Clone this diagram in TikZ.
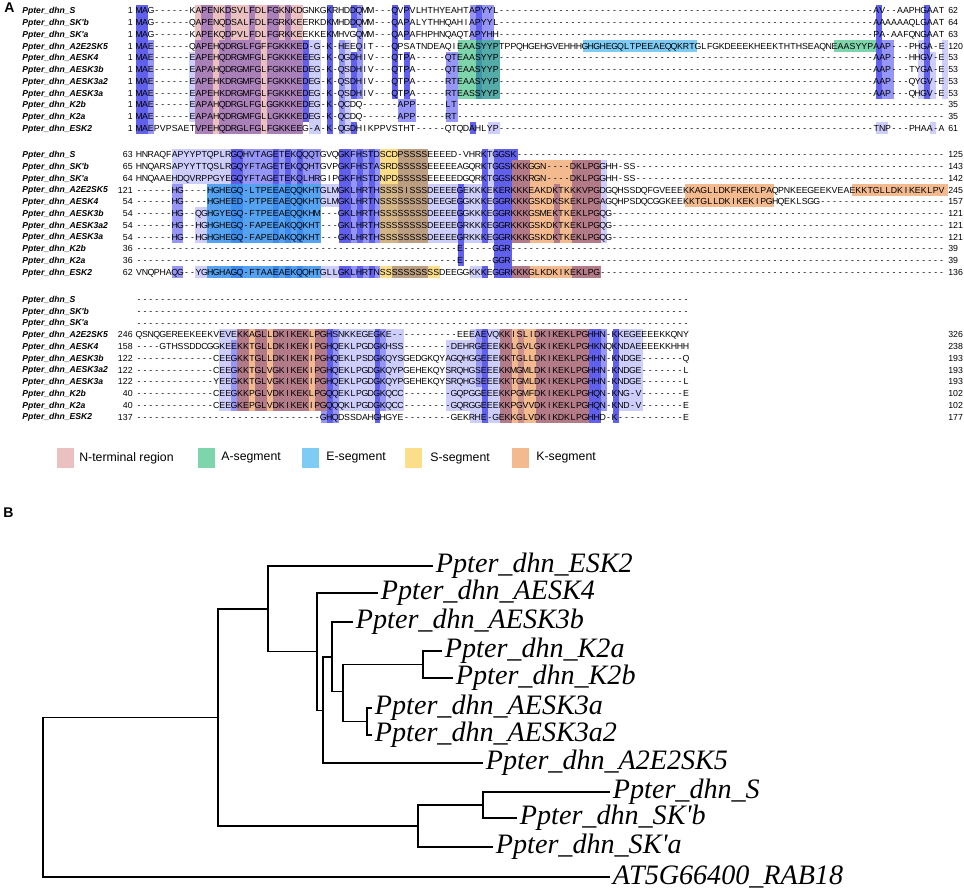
\documentclass[tikz,border=0pt]{standalone}
\usepackage{fontspec}
\newfontfamily\alnfont{Liberation Sans}
\newfontfamily\treefont{Liberation Serif}

\definecolor{consA}{RGB}{96,96,236}
\definecolor{consB}{RGB}{150,150,248}
\definecolor{consC}{RGB}{206,206,252}
\definecolor{segN}{RGB}{220,150,150}
\definecolor{segA}{RGB}{40,185,115}
\definecolor{segE}{RGB}{40,170,235}
\definecolor{segS}{RGB}{250,200,60}
\definecolor{segK}{RGB}{235,140,70}

\def\blkA{10.7}
\def\blkB{154.6}
\def\blkC{299.3}
\def\rowh{11.75}
\def\alnhl[#1](#2)(#3:#4)(#5:#6){\fill[#1] ({135.7+(#3-1)*5.97},{#2+(#5-1.5)*\rowh}) rectangle ({135.7+#4*5.97},{#2+(#6-0.5)*\rowh});}
\def\gaps#1{\ifnum#1>0 -\expandafter\gaps\expandafter{\the\numexpr#1-1\relax}\fi}
\newcommand\alnrow[1]{\edef\alnrowtmp{#1}\expandafter\xalnrow\alnrowtmp\relax}
\def\xalnrow#1{\ifx#1\relax\else\hbox to 3.384pt{\hss#1\hss}\expandafter\xalnrow\fi}

\tikzset{
  seg/.style={fill=#1,fill opacity=.6},
  seqrow/.style={anchor=base west,inner sep=0pt,font=\alnfont\fontsize{5}{6}\selectfont},
  seqname/.style={anchor=base west,inner sep=0pt,font=\alnfont\bfseries\itshape\fontsize{4.9}{6}\selectfont},
  seqnum/.style={inner sep=0pt,font=\alnfont\fontsize{5}{6}\selectfont},
  lgtext/.style={anchor=west,inner sep=0pt,font=\alnfont\fontsize{7}{8}\selectfont},
  panel/.style={anchor=north west,inner sep=0pt,font=\alnfont\bfseries\fontsize{8}{9}\selectfont},
  leaf/.style={anchor=west,inner sep=1.5pt,font=\treefont\itshape\fontsize{16}{18}\selectfont},
  branch/.style={line width=1pt}
}

\begin{document}
\begin{tikzpicture}[x=0.02cm,y=-0.02cm]
		%%%%% START %%%%%
		\useasboundingbox (0,0) rectangle (964,889);
		
		\node[panel] (pA) at (4,2) {A};
		\node[panel] (pB) at (3,507) {B};
		
		% block 1
		\alnhl[consA](\blkA)(1:2)(1:11)
		\alnhl[consB](\blkA)(3:3)(4:11)
		\alnhl[consC](\blkA)(10:10)(5:10)
		\alnhl[consA](\blkA)(12:13)(1:11)
		\alnhl[consA](\blkA)(16:16)(1:11)
		\alnhl[consA](\blkA)(20:20)(1:11)
		\alnhl[consA](\blkA)(23:24)(1:11)
		\alnhl[consA](\blkA)(26:26)(1:11)
		\alnhl[consA](\blkA)(11:11)(4:11)
		\alnhl[consA](\blkA)(15:15)(4:11)
		\alnhl[consA](\blkA)(17:19)(4:11)
		\alnhl[consA](\blkA)(21:21)(4:11)
		\alnhl[consA](\blkA)(25:25)(4:11)
		\alnhl[consA](\blkA)(27:28)(4:11)
		\alnhl[consA](\blkA)(29:29)(4:10)
		\alnhl[consC](\blkA)(30:31)(4:11)
		\alnhl[consA](\blkA)(33:33)(1:11)
		\alnhl[consB](\blkA)(35:35)(4:11)
		\alnhl[consC](\blkA)(36:36)(4:11)
		\alnhl[consA](\blkA)(37:37)(1:2)
		\alnhl[consA](\blkA)(37:37)(5:8)
		\alnhl[consA](\blkA)(37:37)(11:11)
		\alnhl[consB](\blkA)(38:38)(1:8)
		\alnhl[consA](\blkA)(44:44)(1:8)
		\alnhl[consA](\blkA)(46:46)(1:3)
		\alnhl[consA](\blkA)(46:46)(5:8)
		\alnhl[consB](\blkA)(45:47)(9:10)
		\alnhl[consB](\blkA)(53:54)(5:10)
		\alnhl[consB](\blkA)(57:57)(1:3)
		\alnhl[consA](\blkA)(58:58)(1:8)
		\alnhl[consB](\blkA)(59:60)(1:8)
		\alnhl[consB](\blkA)(61:61)(4:8)
		\alnhl[consA](\blkA)(57:57)(11:11)
		\alnhl[consC](\blkA)(60:61)(11:11)
		\alnhl[consA](\blkA)(125:125)(1:8)
		\alnhl[consB](\blkA)(126:127)(4:8)
		\alnhl[consC](\blkA)(125:126)(11:11)
		\alnhl[consC](\blkA)(132:132)(4:8)
		\alnhl[consA](\blkA)(133:133)(1:8)
		\alnhl[consC](\blkA)(134:134)(5:8)
		\alnhl[consC](\blkA)(134:134)(11:11)
		\alnhl[consC](\blkA)(136:136)(4:8)
		\alnhl[seg=segN](\blkA)(11:28)(1:11)
		\alnhl[seg=segA](\blkA)(55:61)(4:8)
		\alnhl[seg=segE](\blkA)(76:94)(4:4)
		\alnhl[seg=segA](\blkA)(118:124)(4:4)
		
		% block 2
		\alnhl[consC](\blkB)(7:16)(1:3)
		\alnhl[consB](\blkB)(7:8)(4:8)
		\alnhl[consB](\blkB)(7:8)(11:11)
		\alnhl[consC](\blkB)(11:12)(6:8)
		\alnhl[consC](\blkB)(11:12)(11:11)
		\alnhl[consB](\blkB)(13:31)(4:8)
		\alnhl[consB](\blkB)(13:31)(11:11)
		\alnhl[consB](\blkB)(19:31)(1:3)
		\foreach \c in {17,18,24,26,28,35,36,38,40} {\alnhl[consA](\blkB)(\c:\c)(1:8)\alnhl[consA](\blkB)(\c:\c)(11:11)}
		\foreach \c in {37,39,41} {\alnhl[consB](\blkB)(\c:\c)(1:8)\alnhl[consB](\blkB)(\c:\c)(11:11)}
		\alnhl[consC](\blkB)(32:34)(4:5)
		\alnhl[consC](\blkB)(32:34)(11:11)
		\alnhl[consB](\blkB)(42:44)(4:8)
		\alnhl[consA](\blkB)(45:49)(1:8)
		\alnhl[consA](\blkB)(44:49)(11:11)
		\alnhl[consC](\blkB)(50:54)(4:8)
		\alnhl[consA](\blkB)(55:55)(4:10)
		\alnhl[consC](\blkB)(56:58)(4:8)
		\alnhl[consC](\blkB)(57:58)(11:11)
		\alnhl[consA](\blkB)(59:59)(1:8)
		\alnhl[consA](\blkB)(59:59)(11:11)
		\alnhl[consC](\blkB)(60:60)(1:8)
		\alnhl[consA](\blkB)(61:63)(1:11)
		\alnhl[consA](\blkB)(64:64)(1:1)
		\alnhl[consA](\blkB)(64:66)(2:8)
		\alnhl[consA](\blkB)(64:66)(11:11)
		\alnhl[consA](\blkB)(71:71)(4:8)
		\alnhl[consA](\blkB)(74:78)(2:8)
		\alnhl[consA](\blkB)(74:78)(11:11)
		\alnhl[consC](\blkB)(79:79)(2:8)
		\alnhl[seg=segE](\blkB)(13:31)(4:8)
		\alnhl[seg=segE](\blkB)(13:31)(11:11)
		\alnhl[seg=segS](\blkB)(42:49)(1:8)
		\alnhl[seg=segS](\blkB)(42:51)(11:11)
		\alnhl[seg=segK](\blkB)(64:78)(2:8)
		\alnhl[seg=segK](\blkB)(64:78)(11:11)
		\alnhl[seg=segK](\blkB)(93:107)(4:5)
		\alnhl[seg=segK](\blkB)(121:136)(4:4)
		
		% block 3
		\alnhl[consC](\blkC)(15:17)(4:10)
		\alnhl[consB](\blkC)(17:17)(5:10)
		\alnhl[consA](\blkC)(18:19)(4:10)
		\alnhl[consA](\blkC)(21:22)(4:10)
		\alnhl[consA](\blkC)(24:29)(4:10)
		\alnhl[consA](\blkC)(31:32)(4:10)
		\alnhl[consB](\blkC)(32:32)(11:11)
		\alnhl[consA](\blkC)(33:33)(4:11)
		\alnhl[consB](\blkC)(34:34)(4:11)
		\alnhl[consC](\blkC)(35:45)(4:10)
		\alnhl[consA](\blkC)(41:41)(4:11)
		\alnhl[consB](\blkC)(42:42)(4:10)
		\alnhl[consC](\blkC)(53:56)(5:10)
		\alnhl[consC](\blkC)(57:61)(4:11)
		\alnhl[consB](\blkC)(58:58)(4:8)
		\alnhl[consA](\blkC)(59:59)(4:11)
		\alnhl[consA](\blkC)(62:63)(4:11)
		\alnhl[consB](\blkC)(65:65)(4:11)
		\alnhl[consA](\blkC)(68:78)(4:11)
		\alnhl[consB](\blkC)(79:79)(4:10)
		\alnhl[consA](\blkC)(81:81)(4:11)
		\alnhl[consC](\blkC)(82:85)(4:10)
		\alnhl[seg=segK](\blkC)(18:32)(4:10)
		\alnhl[seg=segK](\blkC)(62:76)(4:11)
		
		% names and numbers
		\foreach \blk/\bl in {\blkA/A,\blkB/B,\blkC/C}
		  \foreach \nm [count=\i] in {S,SK'b,SK'a,A2E2SK5,AESK4,AESK3b,AESK3a2,AESK3a,K2b,K2a,ESK2}
		    \node[seqname] (nm\bl\i) at (22,{\blk+(\i-1)*\rowh+3.1}) {Ppter\_dhn\_\nm};
		
		\foreach \l/\r [count=\i] in {1/62,1/64,1/63,1/120,1/53,1/53,1/53,1/53,1/35,1/35,1/61} {
		  \node[seqnum,anchor=base east] (lnA\i) at (133,{\blkA+(\i-1)*\rowh+3.2}) {\l};
		  \node[seqnum,anchor=base west] (rnA\i) at (948,{\blkA+(\i-1)*\rowh+3.2}) {\r};
		}
		\foreach \l/\r [count=\i] in {63/125,65/143,64/142,121/245,54/157,54/121,54/121,54/121,36/39,36/39,62/136} {
		  \node[seqnum,anchor=base east] (lnB\i) at (133,{\blkB+(\i-1)*\rowh+3.2}) {\l};
		  \node[seqnum,anchor=base west] (rnB\i) at (948,{\blkB+(\i-1)*\rowh+3.2}) {\r};
		}
		\foreach \l/\r/\i in {246/326/4,158/238/5,122/193/6,122/193/7,122/193/8,40/102/9,40/102/10,137/177/11} {
		  \node[seqnum,anchor=base east] (lnC\i) at (133,{\blkC+(\i-1)*\rowh+3.2}) {\l};
		  \node[seqnum,anchor=base west] (rnC\i) at (948,{\blkC+(\i-1)*\rowh+3.2}) {\r};
		}
		
		% sequences
		\foreach \s [count=\i] in {
		  MAG\gaps{6}KAPENKDSVLFDLFGKNKDGNKGKRHDDQMM\gaps{3}QVPVLHTHYEAHTAPYYL\gaps{63}AV--AAPHGAAT,
		  MAG\gaps{6}QAPENQDSALFDLFGRKKEERKDKMHDDQMM\gaps{3}QAPALYTHHQAHIAPYYL\gaps{63}AAAAAAQLGAAT,
		  MAG\gaps{6}KAPEKQDPVLFDLFGRKKEEKKEKMHVGQMM\gaps{3}QAPAFHPHNQAQTAPYHH\gaps{63}PA-AAFQNGAAT,
		  MAE\gaps{6}QAPEHQDRGLFGFFGKKKED-G-K-HEEQIT\gaps{3}QPSATNDEAQIEAASYYPTPPQHGEHGVEHHHGHGHEGQLTPEEAEQQKRTGLFGKDEEEKHEEKTHTHSEAQNEAASYYPAAP\gaps{3}PHGA-E,
		  MAE\gaps{6}EAPEHQDRGMFGLFGKKKEEEG-K-QGDHIV\gaps{3}QTPA\gaps{5}QTEAASYYP\gaps{63}AAP\gaps{3}HHGV-E,
		  MAE\gaps{6}EAPAHQDRGMFGLFGKKKEDEG-K-QSDHIV\gaps{3}QTPA\gaps{5}QTEAASYYP\gaps{63}AAP\gaps{3}TYGA-E,
		  MAE\gaps{6}EAPEHKDRGMFGLFGKKKEDEG-K-QSDHIV\gaps{3}QTPA\gaps{5}RTEAASYYP\gaps{63}AAP\gaps{3}QYGV-E,
		  MAE\gaps{6}EAPEHKDRGMFGLFGKKKEDEG-K-QSDHIV\gaps{3}QTPA\gaps{5}RTEASSYYP\gaps{63}AAP\gaps{3}QHGV-E,
		  MAE\gaps{6}EAPAHQDRGLFGLGGKKKEDEG-K-QCDQ\gaps{6}APP\gaps{5}LT\gaps{82},
		  MAE\gaps{6}EAPAHQDRGMFGLLGKKKEDEG-K-QCDQ\gaps{6}APP\gaps{5}RT\gaps{82},
		  MAEPVPSAETVPEHQDRGLFGLFGKKEEG-A-K-QGDHIKPPVSTHT\gaps{5}QTQDAHLYP\gaps{63}TNP\gaps{3}PHAA-A}
		  \node[seqrow] (seqA\i) at (135.7,{\blkA+(\i-1)*\rowh+3.2}) {\alnrow{\s}};
		
		\foreach \s [count=\i] in {
		  HNRAQFAPYYPTQPLRGQHVTAGETEKQQQTGVQGKFHSTDSCDPSSSSEEEED-VHRKTGGSK\gaps{72},
		  HNQARSAPYYTTQSLRGQYFTAGETEKQQHTGVPGKFHSTASRDSSSSSEEEEEAGQRKTGGSKKKGGN----DKLPGGHH-SS\gaps{52},
		  HNQAAEHDQVRPPGYEGQYFTAGETEKQLHRGIPGKFHSTDNPDSSSSSEEEEEDGQRKTGGSKKKRGN----DKLPGGHH-SS\gaps{52},
		  \gaps{6}HG----HGHEGQ-LTPEEAEQQKHTGLMGKLHRTHSSSSISSSDEEEEGEKKKEKERKKKEAKDKTKKKVPGDGQHSSDQFGVEEEKKAGLLDKFKEKLPAQPNKEEGEEKVEAEKKTGLLDKIKEKLPV,
		  \gaps{6}HG----HGHEED-PTPEEAEQQKHTGLMGKLHRTNSSSSSSSSDEEGEGGKKKEGGRKKKGSKDKSKEKLPGAGQHPSDQCGGKEEKKTGLLDKIKEKIPGHQEKLSGG\gaps{21},
		  \gaps{6}HG--QGHGYEGQ-FTPEEAEQQKHM---GKLHRTHSSSSSSSSDEEEEGGKKKEGGRKKKGSMEKTKEKLPGQG\gaps{56},
		  \gaps{6}HG--HGHGHEGQ-FAPEEAKQQKHT---GKLHRTHSSSSSSSSDEEEEGRKKKEGGRKKKGSKDKTKEKLPGQG\gaps{56},
		  \gaps{6}HG--HGHGHEGQ-FAPEDAKQQKHT---GKLHRTHSSSSSSSSDEEEEGRKKKEGGRKKKGSKDKTKEKLPGQG\gaps{56},
		  \gaps{54}E\gaps{5}GGR\gaps{73},
		  \gaps{54}E\gaps{5}GGR\gaps{73},
		  VNQPHAQG--YGHGHAGQ-FTAAEAEKQQHTGLLGKLHRTNSSSSSSSSSSDEEGGKKKEGGRKKKGLKDKIKEKLPG\gaps{58}}
		  \node[seqrow] (seqB\i) at (135.7,{\blkB+(\i-1)*\rowh+3.2}) {\alnrow{\s}};
		
		\foreach \s [count=\i] in {
		  \gaps{93},
		  \gaps{93},
		  \gaps{93},
		  QSNQGEREEKEEKVEVEKKAGLLDKIKEKLPGHSNKKEGEGKE\gaps{11}EEEAEVQKKISLIDKIKEKLPGHHN-KKEGEEEEKKQNY,
		  ----GTHSSDDCGGKEEKKTGLLDKIKEKIPGHQEKLPGDGKHSS\gaps{8}DEHRGEEEKKLGVLGKIKEKLPGHKNQKNDAEEEEKKHHH,
		  \gaps{13}CEEGKKTGLLDKIKEKIPGHQEKLPSDGKQYSGEDGKQYAGQHGGEEEKKTGLLDKIKEKLPGHHN-KNDGE\gaps{7}Q,
		  \gaps{13}CEEGKKTGLVGKIKEKIPGHQEKLPGDGKQYPGEHEKQYSRQHGSEEEKKMGMLDKIKEKLPGHHN-KNDGE\gaps{7}L,
		  \gaps{13}YEEGKKTGLVGKIKEKIPGHQEKLPGDGKQYPGEHEKQYSRQHGSEEEKKTGMLDKIKEKLPGHHN-KNDGE\gaps{7}L,
		  \gaps{13}CEEGKKPGLVDKIKEKLPGQQEKLPGDGKQCC\gaps{8}GQPGGEEEKKPGMFDKIKEKLPGHQN-KNG-V\gaps{7}E,
		  \gaps{13}CEEGKEPGLVDKIKEKIPGQQQKLPGDGKQCC\gaps{8}GQRGGEEEKKPGVVDKIKEKLPGHQN-KND-V\gaps{7}E,
		  \gaps{31}GHQDSSDAHGHGYE\gaps{8}GEKRHE-GEKKGLVDKIKDKLPGHHD-K\gaps{11}E}
		  \node[seqrow] (seqC\i) at (135.7,{\blkC+(\i-1)*\rowh+3.2}) {\alnrow{\s}};
		
		% legend
		\fill[seg=segN] (57,448) rectangle (74,468);
		\node[lgtext] (lgN) at (79,458) {N-terminal region};
		\fill[seg=segA] (198,448) rectangle (215,468);
		\node[lgtext] (lgA) at (221,458) {A-segment};
		\fill[seg=segE] (302,448) rectangle (319,468);
		\node[lgtext] (lgE) at (326,458) {E-segment};
		\fill[seg=segS] (405,448) rectangle (422,468);
		\node[lgtext] (lgS) at (430,458) {S-segment};
		\fill[seg=segK] (512,448) rectangle (529,468);
		\node[lgtext] (lgK) at (536,458) {K-segment};
		
		% tree
		\coordinate (t0) at (43,797.5);
		\coordinate (t1) at (218,717.5);
		\coordinate (t2) at (268,609);
		\coordinate (t3) at (418,826);
		\coordinate (t4) at (317,651.5);
		\coordinate (t5) at (323,710.5);
		\coordinate (t6) at (332,657);
		\coordinate (t7) at (343,691.5);
		\coordinate (t8) at (423,664.5);
		\coordinate (t9) at (367,721.5);
		\coordinate (t10) at (483,805);
		
		\node[leaf] (lESK2) at (433,566) {Ppter\_dhn\_ESK2};
		\node[leaf] (lAESK4) at (378,593) {Ppter\_dhn\_AESK4};
		\node[leaf] (lAESK3b) at (353,622) {Ppter\_dhn\_AESK3b};
		\node[leaf] (lK2a) at (442,651) {Ppter\_dhn\_K2a};
		\node[leaf] (lK2b) at (453,678) {Ppter\_dhn\_K2b};
		\node[leaf] (lAESK3a) at (372,708) {Ppter\_dhn\_AESK3a};
		\node[leaf] (lAESK3a2) at (372,735) {Ppter\_dhn\_AESK3a2};
		\node[leaf] (lA2E2SK5) at (483,763) {Ppter\_dhn\_A2E2SK5};
		\node[leaf] (lS) at (610,792) {Ppter\_dhn\_S};
		\node[leaf] (lSKb) at (517,818) {Ppter\_dhn\_SK\textquotesingle b};
		\node[leaf] (lSKa) at (493,847) {Ppter\_dhn\_SK\textquotesingle a};
		\node[leaf] (lRAB) at (610,877) {AT5G66400\_RAB18};
		
		\draw[branch] (t0) |- (t1);
		\draw[branch] (t0) |- (lRAB.west);
		\draw[branch] (t1) |- (t2);
		\draw[branch] (t1) |- (t3);
		\draw[branch] (t2) |- (lESK2.west);
		\draw[branch] (t2) |- (t4);
		\draw[branch] (t4) |- (lAESK4.west);
		\draw[branch] (t4) |- (t5);
		\draw[branch] (t5) |- (t6);
		\draw[branch] (t5) |- (lA2E2SK5.west);
		\draw[branch] (t6) |- (lAESK3b.west);
		\draw[branch] (t6) |- (t7);
		\draw[branch] (t7) |- (t8);
		\draw[branch] (t7) |- (t9);
		\draw[branch] (t8) |- (lK2a.west);
		\draw[branch] (t8) |- (lK2b.west);
		\draw[branch] (t9) |- (lAESK3a.west);
		\draw[branch] (t9) |- (lAESK3a2.west);
		\draw[branch] (t3) |- (t10);
		\draw[branch] (t3) |- (lSKa.west);
		\draw[branch] (t10) |- (lS.west);
		\draw[branch] (t10) |- (lSKb.west);
		
		%%%%% END %%%%%
\end{tikzpicture}
\end{document}
